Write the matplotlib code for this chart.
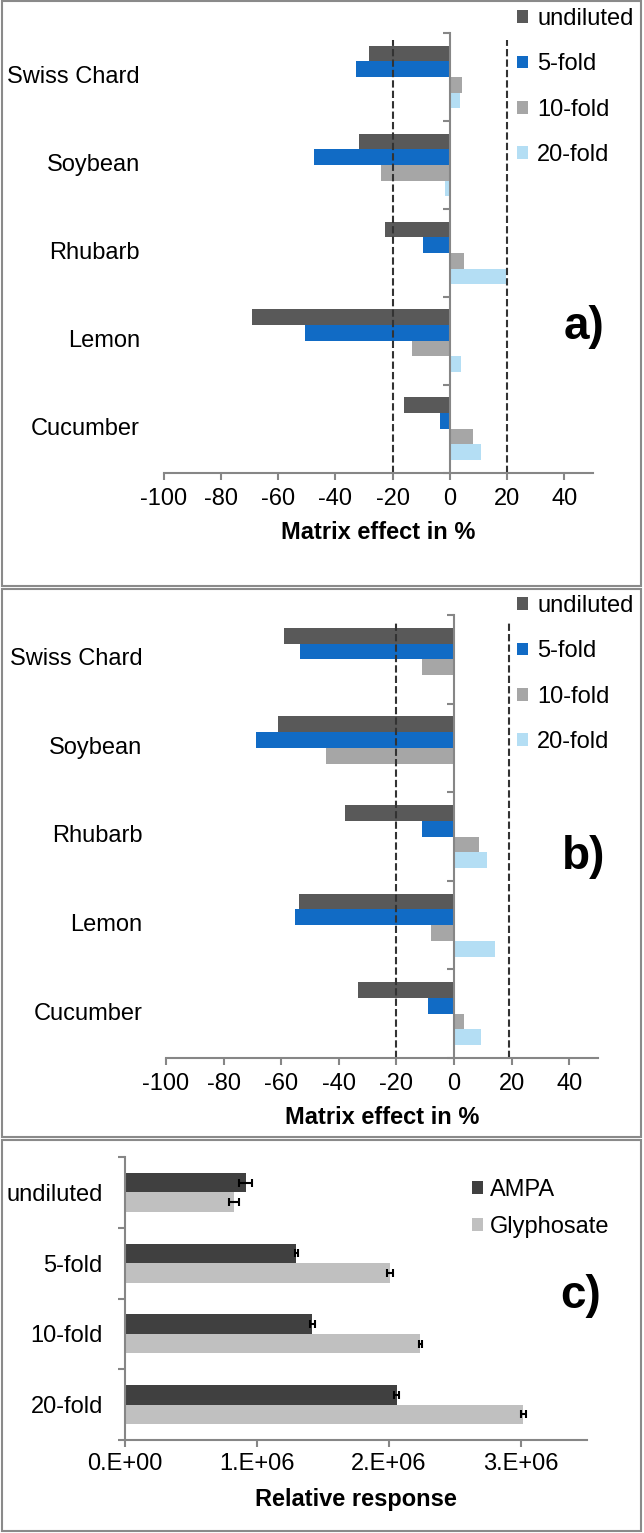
import numpy as np
import matplotlib
matplotlib.use("Agg")
import matplotlib.pyplot as plt
import matplotlib.transforms as mtransforms
from matplotlib.patches import Rectangle

plt.rcParams['font.family'] = ['Liberation Sans', 'DejaVu Sans']
plt.rcParams['axes.unicode_minus'] = False

# ---- data ----
crops = ["Swiss Chard", "Soybean", "Rhubarb", "Lemon", "Cucumber"]
dilutions = ["undiluted", "5-fold", "10-fold", "20-fold"]
dilution_colors = ["#595959", "#116BC5", "#A6A6A6", "#B4DEF4"]

# panel a) matrix effect in %
undiluted_a = [-28.1, -31.8, -22.6, -69.0, -15.9]
fold5_a = [-32.8, -47.4, -9.3, -50.7, -3.4]
fold10_a = [4.4, -24.0, 5.0, -13.2, 8.1]
fold20_a = [3.6, -1.7, 19.7, 4.0, 10.9]

# panel b) matrix effect in %
undiluted_b = [-58.9, -61.0, -37.8, -53.7, -33.2]
fold5_b = [-53.3, -68.6, -11.2, -55.2, -8.9]
fold10_b = [-11.0, -44.3, 8.6, -7.9, 3.5]
fold20_b = [0.0, 0.0, 11.3, 14.1, 9.5]

limits_a = [-20, 20]
limits_b = [-20, 19]
effect_ticks = [-100, -80, -60, -40, -20, 0, 20, 40]

# panel c) relative response
levels = ["undiluted", "5-fold", "10-fold", "20-fold"]
ampa = [0.915e6, 1.30e6, 1.42e6, 2.06e6]
ampa_err = [0.05e6, 0.012e6, 0.02e6, 0.02e6]
glyphosate = [0.826e6, 2.01e6, 2.24e6, 3.02e6]
glyphosate_err = [0.04e6, 0.02e6, 0.01e6, 0.02e6]
response_ticks = [0, 1e6, 2e6, 3e6]
response_labels = ["0.E+00", "1.E+06", "2.E+06", "3.E+06"]

GRAY = "#868686"
FS = 17
W, H = 644, 1533

fig = plt.figure(figsize=(W / 100, H / 100), dpi=100)


def fx(px):
    return px / W


def fy(py):
    return 1 - py / H


def matrix_panel(rect, series, limits, legend_top):
    ax = fig.add_axes(rect)
    y = np.arange(len(crops))
    h = 0.178
    for i, (vals, name, col) in enumerate(zip(series, dilutions, dilution_colors)):
        ax.barh(y + (i - 1.5) * h, vals, height=h, color=col, label=name)
    ax.set_ylim(len(crops) - 0.5, -0.5)
    ax.set_xlim(-100, 50)
    for lim in limits:
        ax.axvline(lim, color="#333333", lw=1.5, ls=(0, (3.5, 1.5)), ymax=0.985)

    ax.spines['top'].set_visible(False)
    ax.spines['right'].set_visible(False)
    ax.spines['left'].set_position(('data', 0))
    for s in ('left', 'bottom'):
        ax.spines[s].set_color(GRAY)
        ax.spines[s].set_linewidth(1.5)

    ax.set_xticks(effect_ticks)
    ax.tick_params(axis='x', length=5, width=1.5, color=GRAY, labelsize=FS, pad=6)
    ax.set_yticks([])
    ax.set_yticks(np.arange(-0.5, len(crops), 1), minor=True)
    ax.tick_params(axis='y', which='minor', length=5, width=1.5, color=GRAY)

    trans = mtransforms.blended_transform_factory(ax.transAxes, ax.transData)
    for i, name in enumerate(crops):
        ax.text(-0.055, i, name, ha='right', va='center', fontsize=FS, transform=trans)

    ax.set_xlabel("Matrix effect in %", fontsize=FS, fontweight='bold', labelpad=8)
    ax.legend(loc='upper left', bbox_to_anchor=(fx(517), fy(legend_top)),
              bbox_transform=fig.transFigure, frameon=False, fontsize=FS,
              handlelength=0.45, handleheight=0.45, handletextpad=0.4,
              labelspacing=0.99, borderpad=0, borderaxespad=0)
    return ax


matrix_panel([fx(163.5), fy(472.7), fx(593 - 163.5), (472.7 - 33) / H],
             [undiluted_a, fold5_a, fold10_a, fold20_a], limits_a, 8)
fig.text(fx(584), fy(327), "a)", fontsize=33, fontweight='bold', ha='center', va='center')

matrix_panel([fx(166), fy(1058), fx(598 - 166), (1058 - 615) / H],
             [undiluted_b, fold5_b, fold10_b, fold20_b], limits_b, 595)
fig.text(fx(584), fy(857), "b)", fontsize=33, fontweight='bold', ha='center', va='center')

# panel c
axc = fig.add_axes([fx(125), fy(1440), fx(586.6 - 125), (1440 - 1157) / H])
yc = np.arange(len(levels))
hc = 0.275
ekw = dict(ecolor='black', capsize=3, elinewidth=1.5, capthick=1.5)
axc.barh(yc - hc / 2, ampa, height=hc, xerr=ampa_err, color="#404040",
         label="AMPA", error_kw=ekw)
axc.barh(yc + hc / 2, glyphosate, height=hc, xerr=glyphosate_err, color="#C0C0C0",
         label="Glyphosate", error_kw=ekw)
axc.set_ylim(len(levels) - 0.5, -0.5)
axc.set_xlim(0, 3.5e6)
axc.spines['top'].set_visible(False)
axc.spines['right'].set_visible(False)
for s in ('left', 'bottom'):
    axc.spines[s].set_color(GRAY)
    axc.spines[s].set_linewidth(1.5)
axc.set_xticks(response_ticks)
axc.set_xticklabels(response_labels)
axc.tick_params(axis='x', length=5, width=1.5, color=GRAY, labelsize=FS, pad=4)
axc.set_yticks(yc)
axc.set_yticklabels(levels)
axc.tick_params(axis='y', which='major', length=0, labelsize=FS, pad=16)
axc.set_yticks(np.arange(-0.5, len(levels), 1), minor=True)
axc.tick_params(axis='y', which='minor', length=5, width=1.5, color=GRAY)
axc.set_xlabel("Relative response", fontsize=FS, fontweight='bold', labelpad=10)
axc.legend(loc='upper left', bbox_to_anchor=(fx(472), fy(1179)),
           bbox_transform=fig.transFigure, frameon=False, fontsize=FS,
           handlelength=0.45, handleheight=0.45, handletextpad=0.3,
           labelspacing=0.64, borderpad=0, borderaxespad=0)
fig.text(fx(581), fy(1296), "c)", fontsize=33, fontweight='bold', ha='center', va='center')

# panel frames
for top, bottom in [(1, 586), (589, 1137), (1140, 1531)]:
    fig.add_artist(Rectangle((fx(2), fy(bottom)), fx(639), (bottom - top) / H,
                             transform=fig.transFigure, fill=False,
                             edgecolor="#8A8A8A", lw=1.5))

fig.savefig("out.png", dpi=100)
